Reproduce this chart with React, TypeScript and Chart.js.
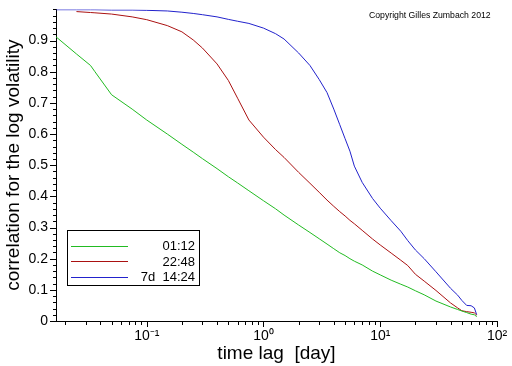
import React, { useEffect, useRef } from 'react';
import { Chart, registerables } from 'chart.js';

Chart.register(...registerables);

const FONT = "'Liberation Sans', Arial, Helvetica, sans-serif";

// time lags in days
const lags = [
  0.0167, 0.025, 0.033, 0.036, 0.05, 0.075, 0.1, 0.15, 0.2, 0.25, 0.3, 0.4, 0.5, 0.6, 0.75,
  1, 1.27, 1.5, 2, 2.5, 3, 3.5, 4, 4.5, 5, 5.5, 6, 7, 8.6, 10, 12.4, 15, 17.2, 20, 23.8,
  30, 40, 46, 50, 55, 60, 64, 67,
];

// correlation for horizon 01:12
const corr0112 = [
  0.912, 0.857, 0.82, 0.8, 0.726, 0.68, 0.645, 0.6, 0.567, 0.542, 0.521, 0.489, 0.463, 0.443, 0.418,
  0.386, 0.36, 0.34, 0.308, 0.284, 0.264, 0.247, 0.232, 0.219, 0.21, 0.2, 0.192, 0.18, 0.16, 0.148,
  0.131, 0.118, 0.109, 0.097, 0.084, 0.064, 0.045, 0.037, 0.032, 0.027, 0.022, 0.02, 0.014,
];

// correlation for horizon 22:48
const corr2248 = [
  null, 0.993, 0.99, 0.989, 0.985, 0.976, 0.967, 0.948, 0.928, 0.902, 0.876, 0.825, 0.772, 0.715, 0.645,
  0.59, 0.55, 0.525, 0.477, 0.442, 0.413, 0.388, 0.368, 0.351, 0.337, 0.323, 0.312, 0.291, 0.263, 0.244,
  0.218, 0.195, 0.178, 0.15, 0.128, 0.098, 0.058, 0.042, 0.033, 0.03, 0.028, 0.026, 0.019,
];

// correlation for horizon 7d 14:24
const corr7d1424 = [
  0.999, 0.999, 0.999, 0.999, 0.998, 0.998, 0.997, 0.995, 0.991, 0.987, 0.983, 0.976, 0.968, 0.962, 0.955,
  0.94, 0.922, 0.905, 0.86, 0.82, 0.775, 0.733, 0.68, 0.63, 0.585, 0.545, 0.497, 0.445, 0.393, 0.362,
  0.322, 0.288, 0.258, 0.228, 0.2, 0.158, 0.105, 0.083, 0.066, 0.05, 0.049, 0.042, 0.02,
];

const seriesLabels = ['01:12', '22:48', '7d  14:24'];
const seriesColors = ['#22bb22', '#aa1111', '#2222cc'];

const xMajorValues = [0.1, 1, 10, 100];
const xMajorLabels = ['10\u207B\u00B9', '10\u2070', '10\u00B9', '10\u00B2'];
const xMinorValues = [
  0.02, 0.03, 0.04, 0.05, 0.06, 0.07, 0.08, 0.09,
  0.2, 0.3, 0.4, 0.5, 0.6, 0.7, 0.8, 0.9,
  2, 3, 4, 5, 6, 7, 8, 9,
  20, 30, 40, 50, 60, 70, 80, 90,
];

const yMajorValues = [0, 0.1, 0.2, 0.3, 0.4, 0.5, 0.6, 0.7, 0.8, 0.9];
const yMajorLabels = ['0', '0.1', '0.2', '0.3', '0.4', '0.5', '0.6', '0.7', '0.8', '0.9'];
const yMinorStep = 0.02;

const X_MIN = 0.0167;
const X_MAX = 100;

const near = (a: number, b: number) => Math.abs(a - b) <= Math.abs(b) * 1e-6 + 1e-9;

export default function App() {
  const ref = useRef<HTMLCanvasElement | null>(null);

  useEffect(() => {
    document.body.style.margin = '0';
    const canvas = ref.current;
    if (!canvas) return;

    const yAllTicks: number[] = [];
    for (let i = 0; i <= 50; i++) yAllTicks.push(Math.round(i * yMinorStep * 1000) / 1000);
    const xAllTicks = [...xMinorValues, ...xMajorValues].sort((a, b) => a - b);

    const tickMarks = {
      id: 'tickMarks',
      afterDraw(chart: any) {
        const c = chart.ctx;
        const xs = chart.scales.x;
        const ys = chart.scales.y;
        const area = chart.chartArea;
        c.save();
        c.strokeStyle = '#000';
        c.lineWidth = 1;
        c.beginPath();
        xs.ticks.forEach((t: any) => {
          const major = xMajorValues.some((m) => near(t.value, m));
          const px = Math.round(xs.getPixelForValue(t.value)) + 0.5;
          c.moveTo(px, area.bottom);
          c.lineTo(px, area.bottom + (major ? 6 : 4));
        });
        ys.ticks.forEach((t: any) => {
          const major = yMajorValues.some((m) => near(t.value, m));
          const py = Math.round(ys.getPixelForValue(t.value)) + 0.5;
          c.moveTo(area.left, py);
          c.lineTo(area.left - (major ? 6 : 3), py);
        });
        c.stroke();
        c.restore();
      },
    };

    const boxLegend = {
      id: 'boxLegend',
      afterDraw(chart: any) {
        const c = chart.ctx;
        c.save();
        c.strokeStyle = '#000';
        c.lineWidth = 1;
        c.strokeRect(67.5, 230.5, 132, 55);
        c.font = `13px ${FONT}`;
        c.textAlign = 'right';
        c.textBaseline = 'middle';
        chart.data.datasets.forEach((ds: any, i: number) => {
          const y = 245.5 + i * 15.7;
          c.strokeStyle = ds.borderColor;
          c.beginPath();
          c.moveTo(71, Math.round(y) + 0.5);
          c.lineTo(128, Math.round(y) + 0.5);
          c.stroke();
          c.fillStyle = '#000';
          c.fillText(ds.label, 195, y + 1);
        });
        c.restore();
      },
    };

    const copyright = {
      id: 'copyright',
      afterDraw(chart: any) {
        const c = chart.ctx;
        c.save();
        c.font = `8.7px ${FONT}`;
        c.fillStyle = '#000';
        c.textAlign = 'left';
        c.textBaseline = 'middle';
        c.fillText('Copyright Gilles Zumbach 2012', 369, 16);
        c.restore();
      },
    };

    const series = [corr0112, corr2248, corr7d1424];

    const chart = new Chart(canvas, {
      type: 'line',
      data: {
        datasets: series.map((vals, si) => ({
          label: seriesLabels[si],
          data: lags.map((x, i) => ({ x, y: vals[i] as any })),
          borderColor: seriesColors[si],
          backgroundColor: seriesColors[si],
          borderWidth: 1,
          pointRadius: 0,
          fill: false,
          tension: 0,
          spanGaps: false,
        })),
      },
      options: {
        responsive: false,
        animation: false,
        devicePixelRatio: 1,
        layout: { padding: { left: 0, right: 15, top: 7, bottom: 0 } },
        plugins: {
          legend: { display: false },
          tooltip: { enabled: false },
          title: { display: false },
        },
        scales: {
          x: {
            type: 'logarithmic',
            min: X_MIN,
            max: X_MAX,
            afterBuildTicks: (s: any) => {
              s.ticks = xAllTicks.map((v) => ({ value: v }));
            },
            afterFit: (s: any) => {
              s.height = 45;
            },
            grid: {
              display: true,
              drawOnChartArea: false,
              drawTicks: true,
              tickLength: 6,
              color: 'rgba(0,0,0,0)',
            },
            border: { display: true, color: '#000', width: 1 },
            ticks: {
              autoSkip: false,
              maxRotation: 0,
              minRotation: 0,
              padding: 1,
              color: '#000',
              font: { family: FONT, size: 14 },
              callback: (v: any) => {
                const idx = xMajorValues.findIndex((m) => near(Number(v), m));
                return idx >= 0 ? xMajorLabels[idx] : '';
              },
            },
            title: {
              display: true,
              text: 'time lag  [day]',
              color: '#000',
              font: { family: FONT, size: 19 },
              padding: { top: 0, bottom: 1 },
            },
          } as any,
          y: {
            type: 'linear',
            min: 0,
            max: 1.0,
            afterBuildTicks: (s: any) => {
              s.ticks = yAllTicks.map((v) => ({ value: v }));
            },
            afterFit: (s: any) => {
              s.width = 56;
            },
            grid: {
              display: true,
              drawOnChartArea: false,
              drawTicks: true,
              tickLength: 7,
              color: 'rgba(0,0,0,0)',
            },
            border: { display: true, color: '#000', width: 1 },
            ticks: {
              autoSkip: false,
              padding: 1,
              color: '#000',
              font: { family: FONT, size: 14 },
              callback: (v: any) => {
                const idx = yMajorValues.findIndex((m) => near(Number(v), m));
                return idx >= 0 ? yMajorLabels[idx] : '';
              },
            },
            title: {
              display: true,
              text: 'correlation for the log volatility',
              color: '#000',
              font: { family: FONT, size: 19 },
              padding: { top: 2, bottom: 0 },
            },
          } as any,
        },
      },
      plugins: [tickMarks, boxLegend, copyright],
    });

    return () => chart.destroy();
  }, []);

  return (
    <div style={{ width: 512, height: 366, background: '#fff' }}>
      <canvas ref={ref} width={512} height={366} style={{ display: 'block' }} />
    </div>
  );
}
